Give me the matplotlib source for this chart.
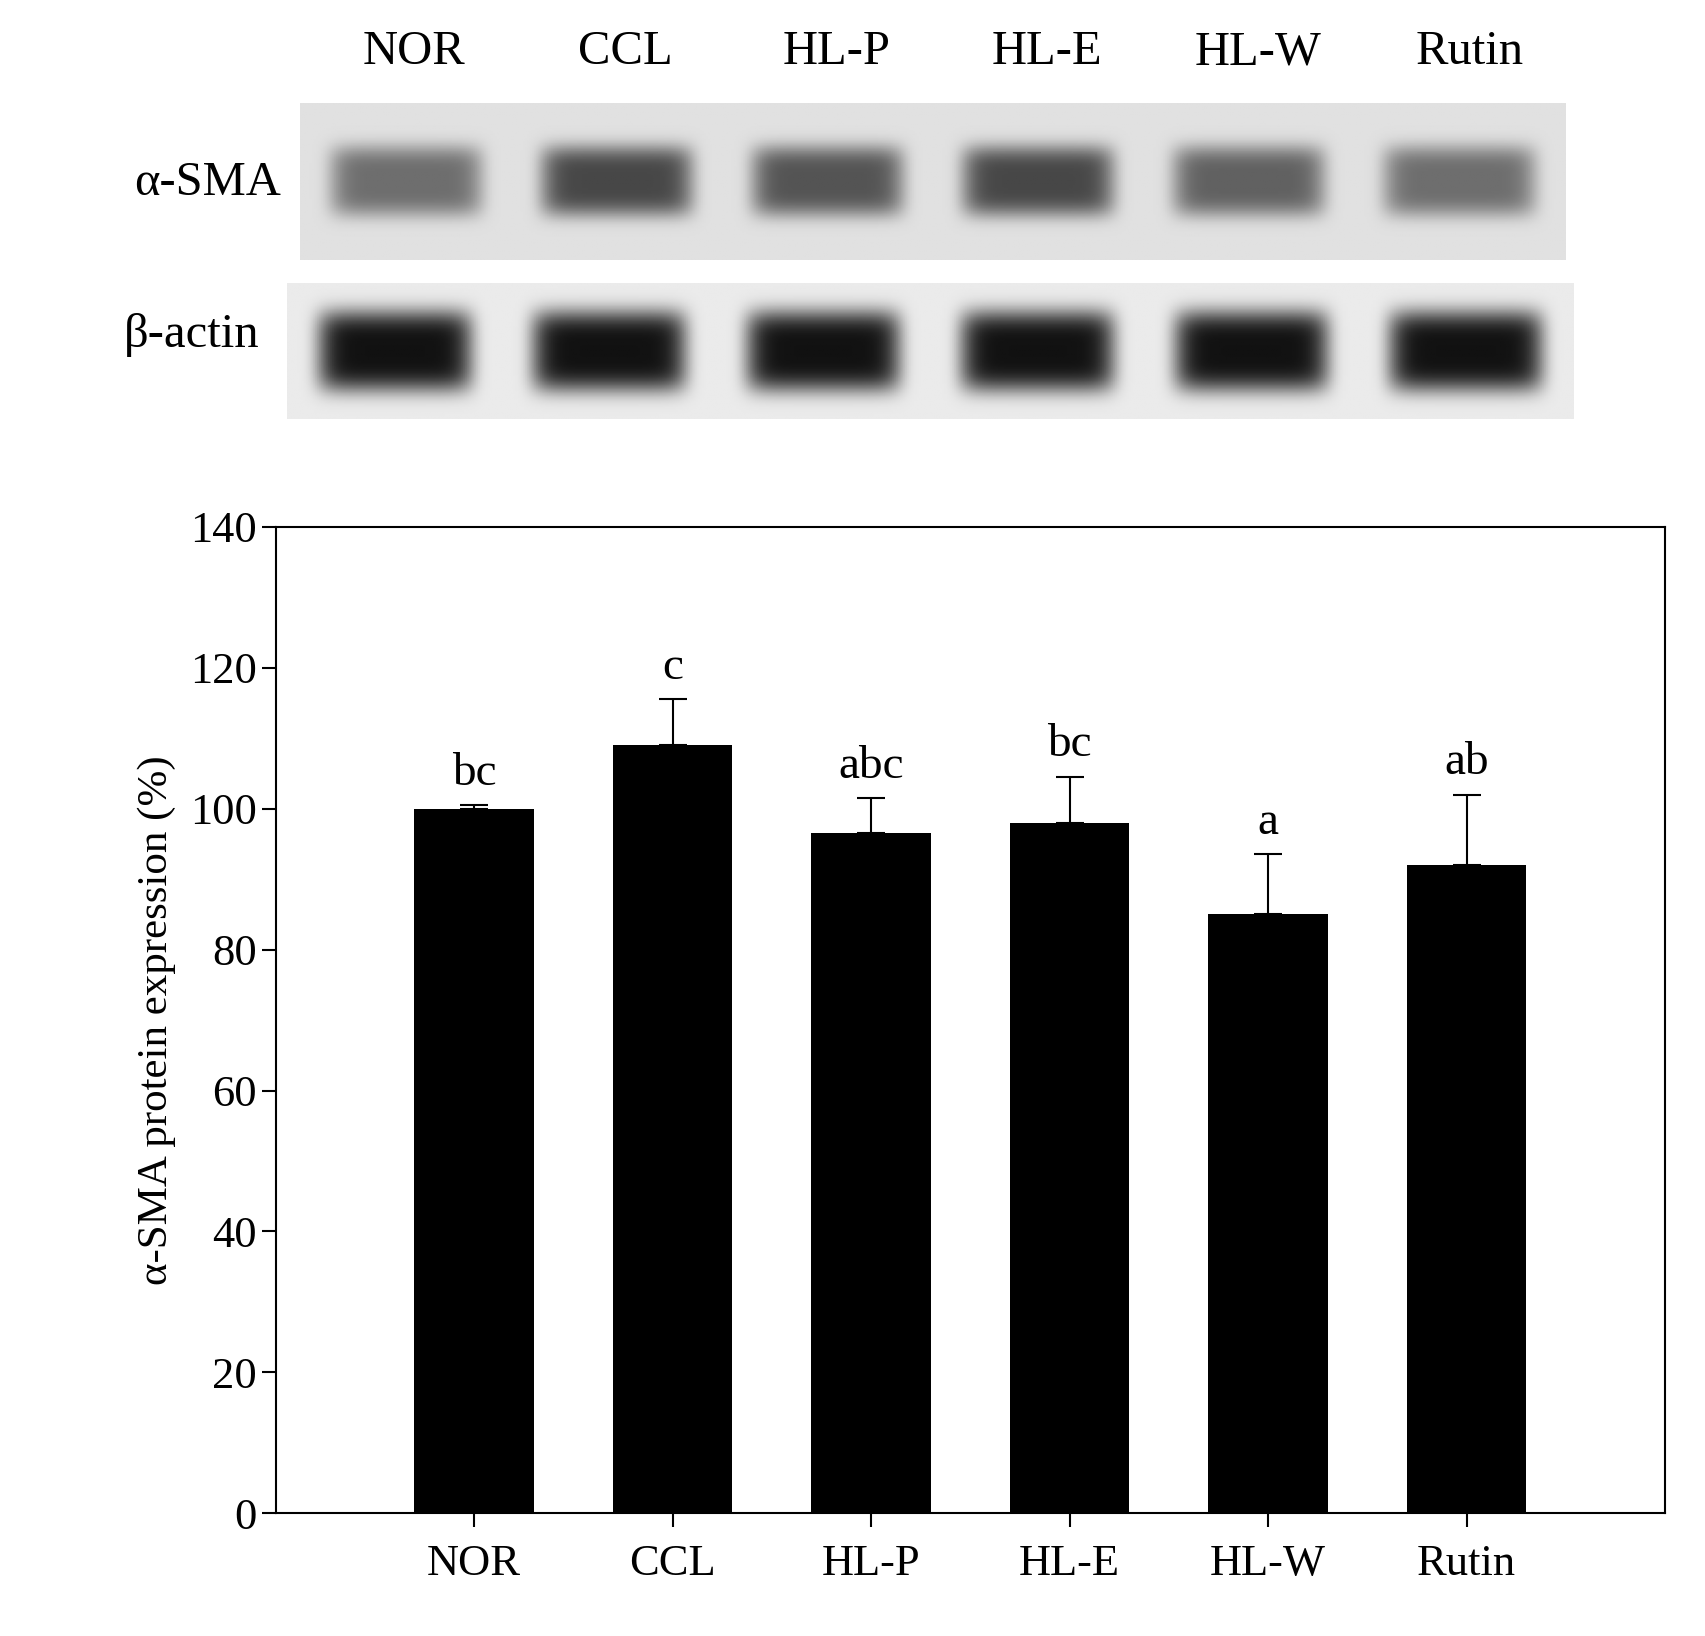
import matplotlib
matplotlib.use('Agg')
import matplotlib.pyplot as plt
import numpy as np

plt.rcParams['font.family'] = ['Liberation Serif', 'DejaVu Serif']

groups = ['NOR', 'CCL', 'HL-P', 'HL-E', 'HL-W', 'Rutin']
expression = [100, 109, 96.5, 98, 85, 92]
errors = [0.5, 6.5, 5.0, 6.5, 8.5, 10.0]
letters = ['bc', 'c', 'abc', 'bc', 'a', 'ab']
# relative band darkness for the blot sketch
sma_band = [0.45, 0.6, 0.55, 0.6, 0.5, 0.45]
actin_band = [0.85, 0.85, 0.85, 0.85, 0.85, 0.85]

fig = plt.figure(figsize=(17.06, 16.36), dpi=100)


def blot(ax, strength, height_frac, bg):
    w, h = 600, 100
    xs = np.linspace(0, 6, w)
    ys = np.linspace(-1, 1, h)
    X, Y = np.meshgrid(xs, ys)
    img = np.full((h, w), bg)
    for i, s in enumerate(strength):
        cx = i + 0.5
        lane = np.exp(-((X - cx) / 0.36) ** 8)
        band = np.exp(-(Y / height_frac) ** 4)
        img -= s * lane * band
    ax.imshow(img, cmap='gray', vmin=0, vmax=1, aspect='auto', extent=[0, 6, 0, 1])
    ax.set_xticks([])
    ax.set_yticks([])
    for sp in ax.spines.values():
        sp.set_visible(False)


ax1 = fig.add_axes([0.176, 0.841, 0.742, 0.096])
blot(ax1, sma_band, 0.45, 0.88)
ax2 = fig.add_axes([0.168, 0.744, 0.754, 0.083])
blot(ax2, actin_band, 0.6, 0.92)

for i, g in enumerate(groups):
    fig.text(0.176 + 0.742 * (i + 0.5) / 6 + 0.005, 0.968, g, ha='center', va='center', fontsize=35)
fig.text(0.165, 0.888, 'α-SMA', ha='right', va='center', fontsize=35)
fig.text(0.152, 0.795, 'β-actin', ha='right', va='center', fontsize=35)

ax = fig.add_axes([0.1615, 0.075, 0.8145, 0.603])
x = np.arange(len(groups))
ax.bar(x, expression, width=0.6, color='black')
ax.errorbar(x, expression, yerr=[np.zeros(len(errors)), errors], fmt='none',
            ecolor='black', elinewidth=1.5, capsize=10, capthick=1.5)
for xi, v, e, l in zip(x, expression, errors, letters):
    ax.text(xi, v + e + 1.5, l, ha='center', va='bottom', fontsize=34)

ax.set_xlim(-1, 6)
ax.set_ylim(0, 140)
ax.set_yticks(np.arange(0, 141, 20))
ax.set_xticks(x)
ax.set_xticklabels(groups)
ax.tick_params(axis='both', labelsize=32, width=1.5, length=10, direction='out')
ax.tick_params(axis='x', pad=12)
ax.set_ylabel('α-SMA protein expression (%)', fontsize=31, labelpad=10)
for sp in ax.spines.values():
    sp.set_linewidth(1.5)

fig.savefig('out.png', dpi=100)
